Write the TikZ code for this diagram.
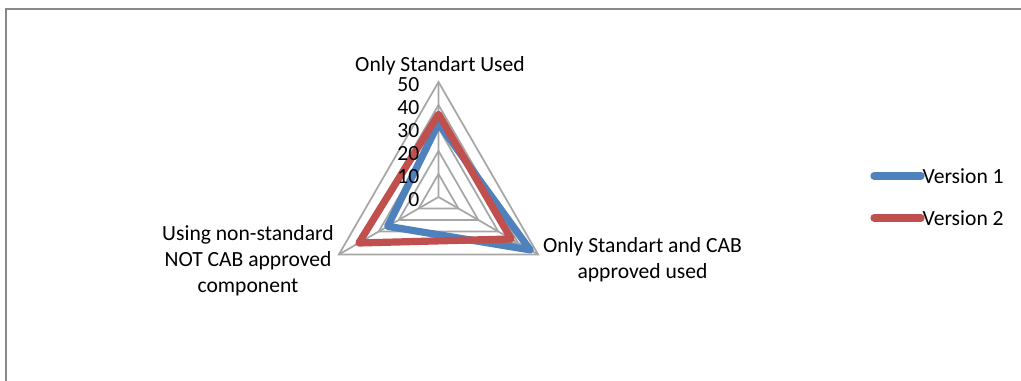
\documentclass[tikz,border=0pt]{standalone}
\usepackage{fontspec}
\setmainfont{Carlito}
\usetikzlibrary{positioning}

\definecolor{vblue}{HTML}{4F81BD}
\definecolor{vred}{HTML}{C0504D}
\definecolor{gridgray}{HTML}{A6A6A6}
\definecolor{framegray}{HTML}{898989}

\begin{document}
\begin{tikzpicture}[
x=0.75pt,y=0.75pt,
grid/.style={
  draw=gridgray,
  line width=1.3pt
},
serie/.style={
  line width=5.4pt,
  line join=round,
  line cap=round
},
axlabel/.style={
  font=\fontsize{16.2}{19.5}\selectfont,
  align=center,
  inner sep=0pt
},
ticklab/.style={
  font=\fontsize{16.2}{18}\selectfont,
  anchor=east,
  inner sep=0pt
}
]
\useasboundingbox (0,0) rectangle (1021,381);
% chart area frame
\draw[framegray,line width=1.5pt] (1021,372) -- (6,372) -- (6,0);

\begin{scope}[shift={(438.5,184)}]
% rings and spokes
\foreach \r in {23,46,69,92,115}
  \draw[grid] (90:\r) -- (-30:\r) -- (210:\r) -- cycle;
\coordinate (o) at (0,0);
\coordinate (ax1) at (90:115);
\coordinate (ax2) at (-30:115);
\coordinate (ax3) at (210:115);
\draw[grid] (o) -- (ax1) (o) -- (ax2) (o) -- (ax3);
% series
\draw[serie,vblue] (90:2.3*32) -- (-30:2.3*46) -- (210:2.3*25.5) -- cycle;
\draw[serie,vred] (90:2.3*36) -- (-30:2.3*36.5) -- (210:2.3*40) -- cycle;
% scale
\foreach \v in {0,10,...,50}
  \node[ticklab] (t\v) at (-19,2.3*\v-2.5) {\v};
% axis names
\node[axlabel] (lab1) at (1.5,131) {Only Standart Used};
\node[axlabel] (lab2) at (204,-63) {Only Standart and CAB\\approved used};
\node[axlabel] (lab3) at (-190.5,-64) {Using non-standard\\NOT CAB approved\\component};
\end{scope}

% legend
\coordinate (l1a) at (874,205);
\coordinate (l1b) at (921,205);
\coordinate (l2a) at (874,163);
\coordinate (l2b) at (921,163);
\draw[serie,vblue] (l1a) -- (l1b);
\draw[serie,vred] (l2a) -- (l2b);
\node[axlabel,anchor=west,right=1pt of l1b] (leg1) {Version 1};
\node[axlabel,anchor=west,right=1pt of l2b] (leg2) {Version 2};
\end{tikzpicture}
\end{document}
